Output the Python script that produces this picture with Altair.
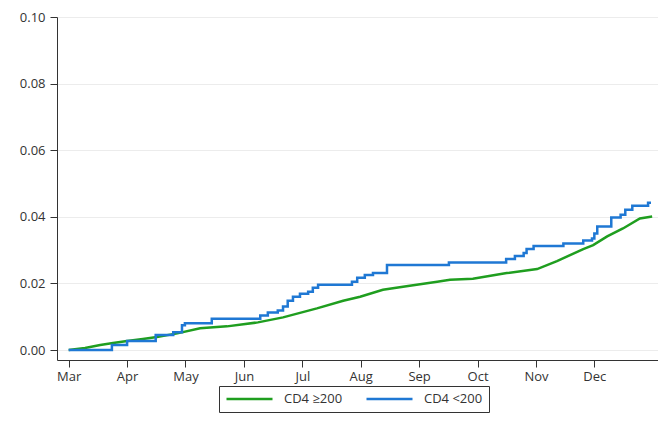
import altair as alt
import pandas as pd

# Month tick labels (x positions 0..9)
months = ["Mar", "Apr", "May", "Jun", "Jul", "Aug", "Sep", "Oct", "Nov", "Dec"]
month_pos = list(range(len(months)))
y_ticks = [0.0, 0.02, 0.04, 0.06, 0.08, 0.10]

# CD4 >=200 (green)
hi_t = [0.0, 0.28, 0.54, 0.76, 1.00, 1.27, 1.51, 1.86, 2.25, 2.71, 3.24, 3.67, 4.25,
        4.70, 4.99, 5.38, 5.84, 6.31, 6.53, 6.92, 7.50, 8.02, 8.36, 8.81, 8.98, 9.22,
        9.49, 9.78, 9.99]
hi_v = [0.0, 0.0006, 0.0015, 0.0021, 0.0027, 0.0033, 0.0039, 0.0050, 0.0065, 0.0071,
        0.0083, 0.0098, 0.0125, 0.0148, 0.0160, 0.0181, 0.0193, 0.0205, 0.0211, 0.0214,
        0.0231, 0.0243, 0.0267, 0.0303, 0.0315, 0.0341, 0.0365, 0.0395, 0.0401]

# CD4 <200 (blue), step function
lo_t = [0.0, 0.74, 1.00, 1.49, 1.79, 1.94, 1.99, 2.45, 3.28, 3.41, 3.58, 3.67, 3.75,
        3.84, 3.96, 4.10, 4.18, 4.27, 4.85, 4.94, 5.07, 5.21, 5.45, 6.51, 7.49, 7.64,
        7.79, 7.84, 7.96, 8.47, 8.81, 8.96, 9.00, 9.05, 9.29, 9.45, 9.53, 9.65, 9.92,
        9.97]
lo_v = [0.0, 0.0015, 0.0027, 0.0045, 0.0053, 0.0074, 0.0080, 0.0094, 0.0104, 0.0113,
        0.0119, 0.0131, 0.0148, 0.0160, 0.0169, 0.0175, 0.0187, 0.0196, 0.0205, 0.0217,
        0.0225, 0.0231, 0.0255, 0.0263, 0.0273, 0.0282, 0.0291, 0.0303, 0.0312, 0.0320,
        0.0329, 0.0335, 0.0350, 0.0371, 0.0398, 0.0406, 0.0421, 0.0433, 0.0442, 0.0442]

groups = ["CD4 ≥200", "CD4 <200"]
colors = ["#1f9e1f", "#1f78d4"]

df_hi = pd.DataFrame({"t": hi_t, "v": hi_v, "grp": groups[0]})
df_lo = pd.DataFrame({"t": lo_t, "v": lo_v, "grp": groups[1]})

FONT = "Open Sans"
label_expr = "[" + ",".join("'%s'" % m for m in months) + "][datum.value]"

x = alt.X("t:Q",
          scale=alt.Scale(domain=[-0.2, 10.09], nice=False, zero=False),
          axis=alt.Axis(values=month_pos, labelExpr=label_expr, title=None, grid=False,
                        tickSize=7, labelPadding=3, domainColor="#333333",
                        tickColor="#333333", labelColor="#333333", labelFontSize=13,
                        labelFont=FONT, labelFlush=False))
y = alt.Y("v:Q",
          scale=alt.Scale(domain=[-0.003, 0.1], nice=False, zero=False),
          axis=alt.Axis(values=y_ticks, format=".2f", title=None, grid=True,
                        gridColor="#ececec", tickSize=7, labelPadding=5,
                        domainColor="#333333", tickColor="#333333",
                        labelColor="#333333", labelFontSize=13, labelFont=FONT))
color = alt.Color("grp:N",
                  scale=alt.Scale(domain=groups, range=colors),
                  legend=alt.Legend(title=None, orient="none", legendX=162, legendY=369,
                                    direction="horizontal", symbolType="stroke",
                                    symbolSize=2116, symbolStrokeWidth=2.5, clipHeight=14,
                                    labelFontSize=13, labelFont=FONT, labelColor="#333333",
                                    strokeColor="#333333", fillColor="white",
                                    padding=6, columnPadding=22, labelOffset=10))

green = alt.Chart(df_hi).mark_line(strokeWidth=2.5, interpolate="linear").encode(
    x=x, y=y, color=color)
blue = alt.Chart(df_lo).mark_line(strokeWidth=2.5, interpolate="step-after").encode(
    x=x, y=y, color=color)

chart = alt.layer(green, blue).properties(
    width=601, height=343,
    autosize=alt.AutoSizeParams(type="none"),
    padding={"left": 49, "top": 9, "right": 0, "bottom": 53},
).configure_view(stroke=None)

chart.save("out.html", embed_options={"renderer": "svg", "actions": False})
